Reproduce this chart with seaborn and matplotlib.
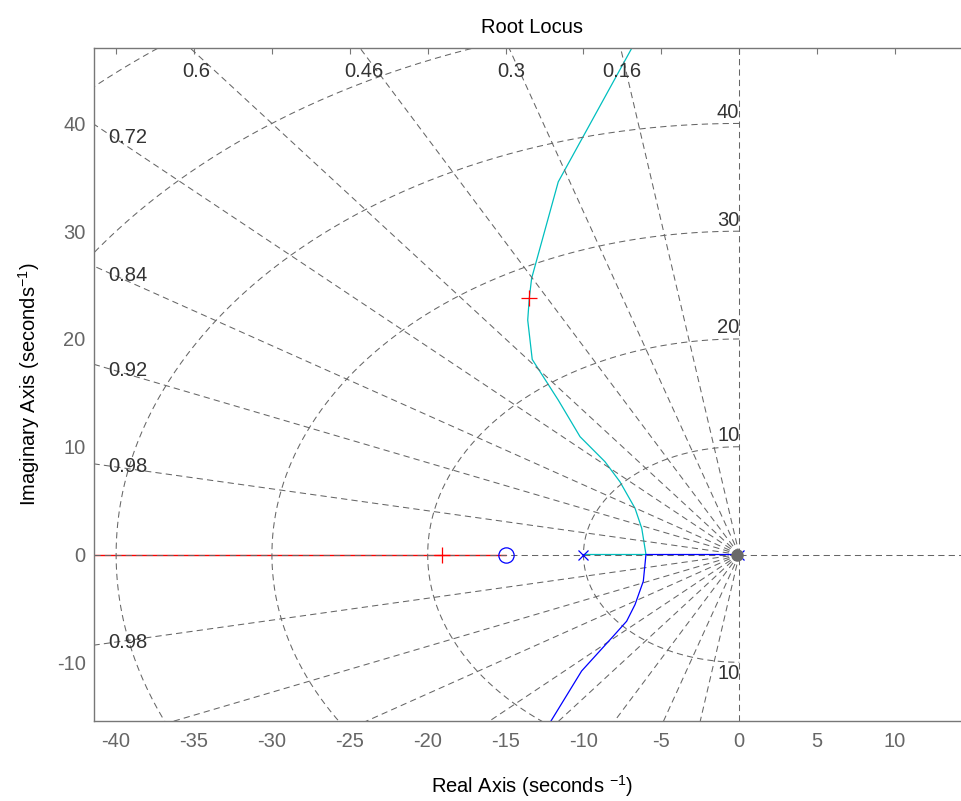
import numpy as np
import pandas as pd
import matplotlib
matplotlib.use("Agg")
import matplotlib.pyplot as plt
import seaborn as sns

# ---------------- data ----------------
pole_re = [0.0, -10.0]
pole_im = [0.0, 0.0]
zero_re = [-15.0]
zero_im = [0.0]
cl_re = [-19.06, -13.48, -13.48]
cl_im = [0.0, 23.77, -23.77]

upper_re = [-10.0, -5.99, -6.26, -6.69, -7.66, -8.62, -10.22, -11.62, -13.29, -13.58, -13.48, -13.33, -11.62, -6.91]
upper_im = [0.0, 0.0, 2.43, 4.28, 6.75, 8.61, 10.93, 14.33, 18.10, 21.75, 23.77, 25.62, 34.58, 46.96]
lower_re = [0.0, -5.99, -6.16, -6.69, -7.23, -8.09, -10.12, -12.15]
lower_im = [0.0, 0.0, -2.48, -4.64, -6.19, -7.58, -10.81, -15.60]
red_re = [-60.0, -15.0]
red_im = [0.0, 0.0]

zeta_vals = [0.16, 0.3, 0.46, 0.6, 0.72, 0.84, 0.92, 0.98]
zeta_labels = ["0.16", "0.3", "0.46", "0.6", "0.72", "0.84", "0.92", "0.98"]
wn_vals = [10, 20, 30, 40, 50, 60]
wn_labels = ["10", "20", "30", "40", "50", "60"]
xticks = [-40, -35, -30, -25, -20, -15, -10, -5, 0, 5, 10]
yticks = [-10, 0, 10, 20, 30, 40]
xlim = (-41.42, 14.81)
ylim = (-15.45, 47.0)

# ---------------- style ----------------
sns.set_style("white")
plt.rcParams["font.family"] = ["Liberation Sans", "DejaVu Sans"]
plt.rcParams["mathtext.fontset"] = "custom"
plt.rcParams["mathtext.rm"] = "Liberation Sans"
plt.rcParams["mathtext.it"] = "Liberation Sans:italic"
plt.rcParams["lines.scale_dashes"] = False

GRID = "#666666"
SPINE = "#777777"
TICKC = "#666666"
LBLC = "#333333"
FS = 14.5

fig = plt.figure(figsize=(9.62, 8.01), dpi=100)
ax = fig.add_axes([94 / 962, 80 / 801, (970 - 94) / 962, (721 - 48) / 801])
ax.set_xlim(*xlim)
ax.set_ylim(*ylim)

dash = (0, (4.5, 3.0))
glw = 0.75

# sgrid: damping rays
R = 200.0
for z in zeta_vals:
    s = np.sqrt(1 - z * z)
    for sg in (1, -1):
        ax.plot([0, -R * z], [0, sg * R * s], color=GRID, lw=glw, ls=dash, zorder=1.5)
ax.axhline(0, color=GRID, lw=glw, ls=dash, zorder=1.5)
ax.axvline(0, color=GRID, lw=glw, ls=dash, zorder=1.5)
# sgrid: natural frequency arcs (left half plane)
th = np.linspace(np.pi / 2, 3 * np.pi / 2, 400)
for wn in wn_vals:
    ax.plot(wn * np.cos(th), wn * np.sin(th), color=GRID, lw=glw, ls=dash, zorder=1.5)

# damping labels
for z, lab in zip(zeta_vals, zeta_labels):
    t = np.sqrt(1 - z * z) / z
    yhit = -xlim[0] * t
    if yhit < ylim[1]:
        xl = xlim[0] + 0.9
        ax.text(xl, -(xl + 0.4) * t, lab, ha="left", va="center", fontsize=FS, color=LBLC, zorder=3)
        if -yhit > ylim[0]:
            ax.text(xl, (xl + 0.4) * t, lab, ha="left", va="center", fontsize=FS, color=LBLC, zorder=3)
    else:
        yl = ylim[1] - 0.5
        ax.text(-yl / t, ylim[1] - 2.2, lab, ha="center", va="center", fontsize=FS, color=LBLC, zorder=3)

# natural frequency labels
for wn, lab in zip(wn_vals, wn_labels):
    if wn < ylim[1]:
        ax.text(0.0, wn + 0.15, lab, ha="right", va="bottom", fontsize=FS, color=LBLC, zorder=3)
    if -wn > ylim[0]:
        ax.text(0.0, -wn - 0.15, lab, ha="right", va="top", fontsize=FS, color=LBLC, zorder=3)

# locus branches
df_red = pd.DataFrame({"re": red_re, "im": red_im})
df_up = pd.DataFrame({"re": upper_re, "im": upper_im})
df_lo = pd.DataFrame({"re": lower_re, "im": lower_im})
sns.lineplot(data=df_red, x="re", y="im", sort=False, estimator=None, color="#ff0000", lw=1.0, zorder=1, ax=ax)
sns.lineplot(data=df_up, x="re", y="im", sort=False, estimator=None, color="#00bfbf", lw=0.9, zorder=1, ax=ax)
sns.lineplot(data=df_lo, x="re", y="im", sort=False, estimator=None, color="#0000ff", lw=0.9, zorder=2, ax=ax)

# poles, zeros, closed-loop poles
ax.plot(pole_re, pole_im, ls="none", marker="x", ms=7.5, mew=0.9, color="#0000ff", zorder=4)
ax.plot(zero_re, zero_im, ls="none", marker="o", ms=11, mew=0.9, mfc="none", mec="#0000ff", zorder=4)
ax.plot(cl_re, cl_im, ls="none", marker="+", ms=11.5, mew=0.9, color="#ff0000", zorder=4)
ax.plot([-0.12], [0.0], ls="none", marker="o", ms=9, mew=0, color="#6a6a6a", zorder=5)

# axes decoration
ax.set_xticks(xticks)
ax.set_yticks(yticks)
ax.set_xticklabels([str(v) for v in xticks])
ax.set_yticklabels([str(v) for v in yticks])
ax.tick_params(axis="both", which="both", direction="in", length=4, width=0.8,
               color=SPINE, labelcolor=TICKC, labelsize=FS, top=True, right=False)
ax.tick_params(axis="x", pad=8)
ax.tick_params(axis="y", pad=6)
for sp in ax.spines.values():
    sp.set_color(SPINE)
    sp.set_linewidth(1.0)
ax.spines["right"].set_visible(False)

ax.set_title("Root Locus", fontsize=FS, color="black", pad=11)
ax.set_xlabel("Real Axis (seconds $^{-1}$)", fontsize=FS, color="black", labelpad=16)
ax.set_ylabel("Imaginary Axis (seconds$^{-1}$)", fontsize=FS, color="black", labelpad=11)

fig.savefig("out.png", dpi=100)
